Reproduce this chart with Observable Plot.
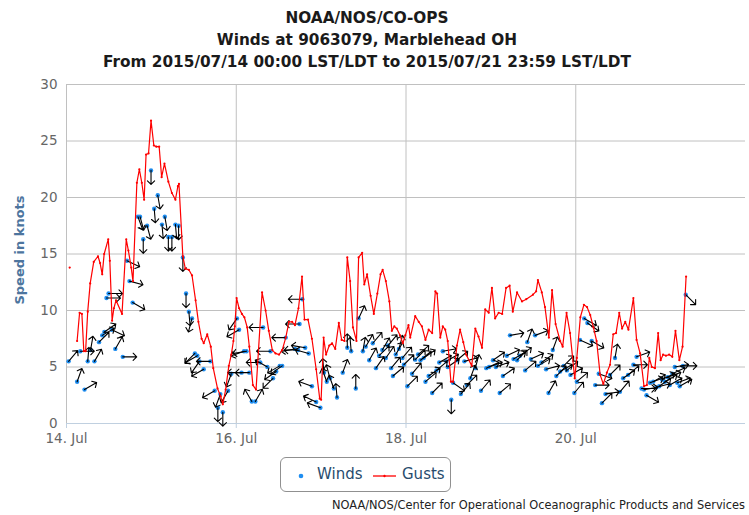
<!DOCTYPE html>
<html><head><meta charset="utf-8">
<script src="https://cdn.jsdelivr.net/npm/d3@7"></script>
<script src="https://cdn.jsdelivr.net/npm/@observablehq/plot@0.6"></script>
<style>
body{margin:0;background:#fff;font-family:"DejaVu Sans",sans-serif;}
#wrap{position:relative;width:749px;height:515px;overflow:hidden;background:#fff;}
.t{position:absolute;left:0;width:734px;text-align:center;font-size:15.3px;font-weight:bold;color:#1a1a1a;line-height:20px;white-space:nowrap;}
#chart{position:absolute;left:0;top:76px;}
#ylab{position:absolute;left:19px;top:250px;transform:translate(-50%,-50%) rotate(-90deg);font-size:13px;font-weight:bold;color:#4d759e;white-space:nowrap;}
#legend{position:absolute;left:280px;top:457px;width:171px;height:35px;border:1px solid #909090;border-radius:6px;box-sizing:border-box;}
.li{position:absolute;top:7px;font-size:15px;color:#274b6d;line-height:18px;}
#caption{position:absolute;right:4px;top:498px;font-size:11.4px;color:#222;white-space:nowrap;}
</style></head>
<body>
<div id="wrap">
  <div class="t" style="top:8px">NOAA/NOS/CO-OPS</div>
  <div class="t" style="top:30px">Winds at 9063079, Marblehead OH</div>
  <div class="t" style="top:52px">From 2015/07/14 00:00 LST/LDT to 2015/07/21 23:59 LST/LDT</div>
  <div id="chart"></div>
  <div id="ylab">Speed in knots</div>
  <div id="legend">
    <svg width="171" height="35" style="position:absolute;left:0;top:0">
      <circle cx="20" cy="18" r="2.3" fill="#1f8ef1"></circle>
      <line x1="92" x2="115" y1="18" y2="18" stroke="#ff0000" stroke-width="1.3"></line>
      <circle cx="103.5" cy="18" r="1.2" fill="#ff0000"></circle>
    </svg>
    <span class="li" style="left:36px">Winds</span>
    <span class="li" style="left:121px">Gusts</span>
  </div>
  <div id="caption">NOAA/NOS/Center for Operational Oceanographic Products and Services</div>
</div>
<script>
// Gusts (knots), time in hours after 2015-07-14 00:00; null = gap
const gustHours = [0.9,2.0,3.0,3.7,4.35,4.9,5.4,6.0,6.7,7.7,8.9,9.5,10.1,10.65,11.8,12.25,12.9,13.4,14.0,15.7,16.9,17.5,18.3,18.8,19.9,20.6,21.3,21.95,22.5,23.2,23.9,24.7,25.4,26.2,26.9,27.7,28.8,29.8,30.8,31.5,31.8,32.9,33.6,34.6,35.5,36.5,37.3,38.2,38.8,39.8,40.8,41.5,42.7,43.6,44.2,45.0,45.9,46.6,47.2,47.6,48.1,48.8,49.6,50.3,51.1,51.7,52.7,53.6,55.3,56.3,57.2,58.2,59.1,60.1,61.0,62.0,62.9,63.8,64.6,65.6,66.6,67.3,68.3,69.4,70.6,71.6,72.0,72.7,73.4,74.3,75.1,76.0,77.0,77.8,78.6,79.4,80.2,81.0,82.0,82.6,83.6,84.2,85.0,86.0,86.9,87.9,88.8,89.4,90.3,91.3,92.0,92.7,93.4,94.3,95.1,95.8,96.7,97.2,98.6,99.6,100.5,101.5,102.4,103.4,104.3,104.8,105.7,106.4,107.1,107.8,108.7,109.3,110.4,111.3,112.2,113.0,114.6,115.6,116.5,117.5,118.4,119.4,120.3,121.2,122.2,123.2,124.3,125.3,126.2,127.4,128.8,130.0,131.9,132.8,133.3,134.4,135.3,136.4,137.3,138.3,139.6,140.3,141.4,142.4,143.7,144.3,145.3,146.3,147.2,148.1,149.0,149.9,150.9,151.8,152.8,153.7,154.6,155.4,156.3,157.1,158.0,158.9,160.3,161.2,162.2,163.3,164.1,164.8,165.5,166.4,167.3,168.0,168.7,169.5,170.4,171.3,172.2,173.3,174.2,175.2];
const gustKnots = [13.8,null,7.3,9.8,9.7,6.4,6.4,9.9,12.4,14.3,14.8,14.2,13.2,15.0,16.3,14.4,9.1,10.2,10.9,9.7,16.3,15.3,13.8,12.6,21.3,22.5,21.3,19.8,23.8,23.9,26.8,24.6,24.5,24.5,21.8,23.0,21.4,20.4,19.8,21.0,21.2,14.8,13.7,13.6,13.1,10.9,9.0,7.5,7.1,7.9,6.8,4.9,3.1,2.4,1.7,3.0,5.1,6.1,7.3,8.6,11.1,10.2,9.7,9.4,8.5,6.8,3.4,3.0,11.6,10.0,8.2,6.5,6.2,6.1,6.5,7.6,9.0,9.0,8.7,10.2,13.0,9.2,9.2,7.5,4.8,2.2,2.1,7.6,6.1,6.9,7.1,6.6,8.9,7.4,7.3,14.7,12.6,8.5,7.3,14.7,15.1,12.3,13.2,11.3,9.7,11.5,13.2,13.6,12.6,10.8,8.2,8.6,8.4,7.8,7.1,7.8,8.7,7.6,9.5,9.0,8.6,7.4,8.3,8.0,11.7,11.5,7.6,8.6,8.3,7.3,3.7,3.7,6.9,8.3,7.2,6.1,5.1,8.4,7.7,6.7,10.1,9.8,12.0,9.3,9.8,9.7,12.0,12.2,9.9,11.6,10.8,11.0,11.4,11.7,12.7,11.6,10.3,7.6,11.8,8.8,7.3,6.8,9.8,8.0,4.0,5.8,9.4,10.5,10.3,9.6,8.5,7.3,4.3,3.5,4.5,5.2,7.9,8.0,9.8,8.4,9.0,8.3,11.1,7.4,6.2,3.3,3.4,5.8,5.0,4.9,8.0,5.6,6.1,6.0,6.1,5.9,8.2,5.6,6.8,13.0];

// Winds: time (hours after start), speed (knots), direction wind blows from (degrees true)
const windHours = [0.6,3.0,3.9,5.1,6.0,6.8,7.9,9.2,10.1,10.7,11.3,11.9,12.8,13.8,15.9,17.1,17.8,18.7,20.2,20.8,21.7,22.8,23.9,24.8,25.8,27.0,27.8,28.8,29.8,30.8,31.7,32.9,33.8,34.6,35.5,36.3,37.0,37.6,38.8,40.7,41.9,42.8,43.5,44.2,45.7,46.6,48.2,48.8,49.5,50.2,50.9,51.7,52.4,53.4,54.8,55.6,56.8,57.7,58.4,59.3,60.3,61.0,62.0,64.6,65.5,65.9,66.7,67.5,68.5,69.4,70.6,71.8,72.8,73.6,74.5,75.6,76.5,78.1,79.4,80.5,81.8,82.6,83.8,84.6,85.6,86.6,87.5,88.4,89.3,90.3,90.9,91.8,92.3,93.1,94.0,95.0,95.4,96.4,97.7,98.6,99.4,100.1,101.0,101.5,102.4,103.4,104.6,105.4,106.4,107.4,107.8,108.8,109.3,110.4,111.5,112.5,113.2,114.2,115.6,117.2,118.7,119.5,120.6,121.4,122.5,123.4,124.5,125.4,126.4,127.4,128.2,129.7,130.3,131.3,132.5,133.3,134.3,135.6,136.3,137.5,138.5,139.6,140.6,141.5,142.5,143.6,144.3,145.2,146.4,147.3,148.5,149.5,150.5,151.4,152.4,153.7,155.1,156.5,157.4,158.8,160.3,161.2,162.6,163.3,164.0,165.0,165.9,166.8,167.6,168.4,169.2,170.0,170.6,171.3,172.0,172.7,173.4,174.3,175.1];
const windKnots = [5.5,3.7,6.4,3.0,5.5,6.5,5.5,7.2,7.8,8.1,11.1,11.5,8.3,6.6,5.9,14.4,12.6,10.7,18.3,18.3,16.3,17.5,22.4,19.0,20.2,17.6,18.3,16.5,16.5,17.6,17.5,14.7,11.5,9.9,9.3,6.2,6.0,5.5,4.8,5.5,2.9,1.4,2.6,1.0,2.9,4.4,9.3,8.3,4.5,6.4,6.4,4.5,1.95,1.95,5.4,8.5,5.0,6.4,4.0,4.6,5.1,5.1,7.6,6.6,6.5,8.8,11.0,6.7,6.2,3.3,1.9,1.4,4.5,3.7,4.0,3.1,2.3,4.5,6.7,6.4,3.1,9.3,6.4,6.8,5.6,7.1,4.9,6.0,6.5,5.8,6.9,4.9,4.2,6.1,6.6,5.8,5.2,3.3,4.4,5.65,6.1,5.6,5.8,3.7,4.2,2.7,4.7,5.4,6.4,5.5,5.0,2.1,3.6,5.6,2.6,5.5,3.4,4.0,4.9,2.9,4.9,5.0,5.6,5.0,2.7,4.2,6.0,7.8,5.7,5.6,6.0,4.7,7.2,5.7,7.8,5.1,5.4,4.8,2.7,6.5,4.2,4.6,5.1,4.7,4.3,2.7,3.7,7.4,9.3,8.9,7.3,3.4,4.4,1.8,2.6,4.3,5.8,2.8,4.0,4.3,5.2,5.9,3.1,3.0,2.5,3.6,3.7,3.2,3.3,3.9,3.7,4.1,3.4,4.4,5.0,3.6,3.3,5.1,11.4];
const windFromDeg = [220,200,270,240,185,190,210,225,240,235,270,270,295,210,270,295,285,300,340,345,0,345,0,355,350,355,350,0,0,355,0,0,0,355,15,45,60,35,60,90,60,0,20,0,30,20,35,60,90,70,80,90,150,210,90,90,120,90,45,55,60,55,90,80,90,90,90,100,105,110,115,110,175,160,165,160,175,200,180,175,180,205,190,210,210,220,215,225,210,215,220,220,230,210,195,220,225,225,220,225,230,230,235,230,235,225,230,240,260,240,235,0,305,230,220,255,225,200,195,220,245,250,235,250,230,235,245,260,240,225,235,230,200,245,250,240,235,255,210,200,225,240,225,230,240,220,230,295,300,305,300,270,290,225,260,225,190,220,235,230,270,250,270,260,300,250,240,255,235,245,240,250,240,245,260,250,240,270,315];

const yTicks = [0,5,10,15,20,25,30];
const xTickLabels = ["14. Jul","16. Jul","18. Jul","20. Jul"];

const start = Date.UTC(2015, 6, 14);
const HOUR = 3600e3;
const xTicks = [0, 2, 4, 6].map(d => new Date(start + d * 24 * HOUR));
const gusts = gustHours.map((h, i) => ({t: new Date(start + h * HOUR), v: gustKnots[i]}));
const winds = windHours.map((h, i) => ({t: new Date(start + h * HOUR), v: windKnots[i], dir: windFromDeg[i]}));

const chart = Plot.plot({
  width: 749, height: 374,
  marginLeft: 66, marginRight: 4, marginTop: 8, marginBottom: 27,
  style: {fontFamily: "DejaVu Sans, sans-serif", fontSize: "13.5px", color: "#666", background: "white", overflow: "visible"},
  x: {type: "utc", domain: [new Date(start), new Date(start + 8 * 24 * HOUR)], label: null},
  y: {domain: [0, 30], label: null},
  marks: [
    Plot.gridY(yTicks.filter(d => d > 0), {stroke: "#c0c0c0", strokeOpacity: 1}),
    Plot.gridX(xTicks.slice(1), {stroke: "#c0c0c0", strokeOpacity: 1}),
    Plot.ruleX([xTicks[0]], {stroke: "#c0c0c0"}),
    Plot.ruleY([0], {stroke: "#c0d0e0"}),
    Plot.axisX(xTicks, {tickSize: 5, tickPadding: 5, stroke: "#c0d0e0", fill: "#666",
      tickFormat: (d, i) => xTickLabels[i]}),
    Plot.axisY(yTicks, {tickSize: 0, tickPadding: 9, fill: "#666"}),
    Plot.dot(winds, {x: "t", y: "v", r: 2.2, fill: "#1f8ef1", stroke: null}),
    Plot.vector(winds, {x: "t", y: "v", rotate: d => (d.dir + 180) % 360, length: 14, anchor: "start",
      stroke: "#000", strokeWidth: 1.1, r: 4.5}),
    Plot.line(gusts, {x: "t", y: "v", stroke: "#ff0000", strokeWidth: 1.2}),
    Plot.dot(gusts.filter(d => d.v != null), {x: "t", y: "v", r: 1.1, fill: "#ff0000", stroke: null})
  ]
});
document.getElementById("chart").appendChild(chart);
</script>
</body></html>
